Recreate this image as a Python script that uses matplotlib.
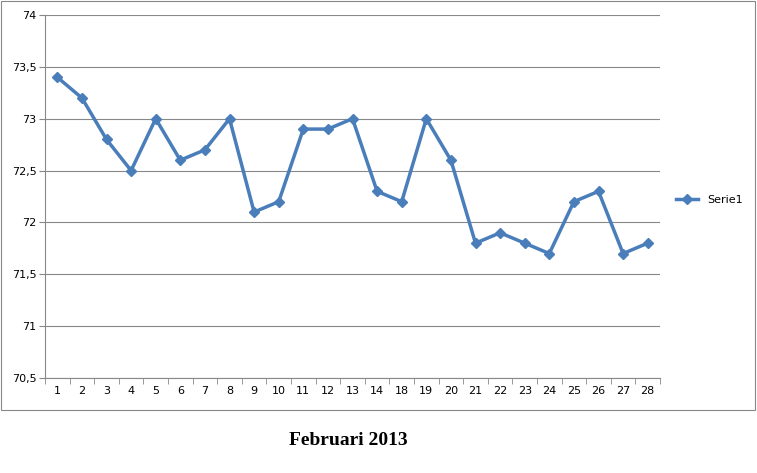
import matplotlib
matplotlib.use("Agg")
import matplotlib.pyplot as plt
from matplotlib.patches import Rectangle

days = ["1","2","3","4","5","6","7","8","9","10","11","12","13","14","18","19","20","21","22","23","24","25","26","27","28"]
values = [73.4,73.2,72.8,72.5,73.0,72.6,72.7,73.0,72.1,72.2,72.9,72.9,73.0,72.3,72.2,73.0,72.6,71.8,71.9,71.8,71.7,72.2,72.3,71.7,71.8]
yticks = [70.5,71,71.5,72,72.5,73,73.5,74]
ylabels = ["70,5","71","71,5","72","72,5","73","73,5","74"]

fig = plt.figure(figsize=(7.57,4.73), dpi=100)
fig.patches.append(Rectangle((0.001,1-410/473),0.997,410/473-0.002,transform=fig.transFigure,fill=False,edgecolor="#888888",lw=0.8))
ax = fig.add_axes([45/757, 1-378/473, 615/757, 363/473])
x = list(range(len(days)))
ax.plot(x, values, color="#4a7ebb", lw=2.5, marker="D", ms=5, label="Serie1")
ax.set_xlim(-0.5, len(days)-0.5)
ax.set_ylim(70.5, 74)
ax.set_yticks(yticks)
ax.set_yticklabels(ylabels, fontsize=8)
ax.set_xticks(x)
ax.set_xticklabels(days, fontsize=8)
ax.set_xticks([i-0.5 for i in range(len(days)+1)], minor=True)
ax.tick_params(axis="x", which="major", length=0, pad=6)
ax.tick_params(axis="x", which="minor", length=4, color="#888888")
ax.tick_params(axis="y", length=4, color="#888888", pad=2)
ax.yaxis.grid(True, color="#888888", lw=0.8)
ax.set_axisbelow(True)
for s in ["top","right"]:
    ax.spines[s].set_visible(False)
for s in ["left","bottom"]:
    ax.spines[s].set_color("#888888")
ax.legend(loc="center left", bbox_to_anchor=(1.01,0.49), frameon=False, fontsize=8, handlelength=2)
fig.text(348/757, 1-440/473, "Februari 2013", ha="center", va="center", fontsize=14, fontweight="bold", family="Liberation Serif")
fig.savefig("out.png", dpi=100)
